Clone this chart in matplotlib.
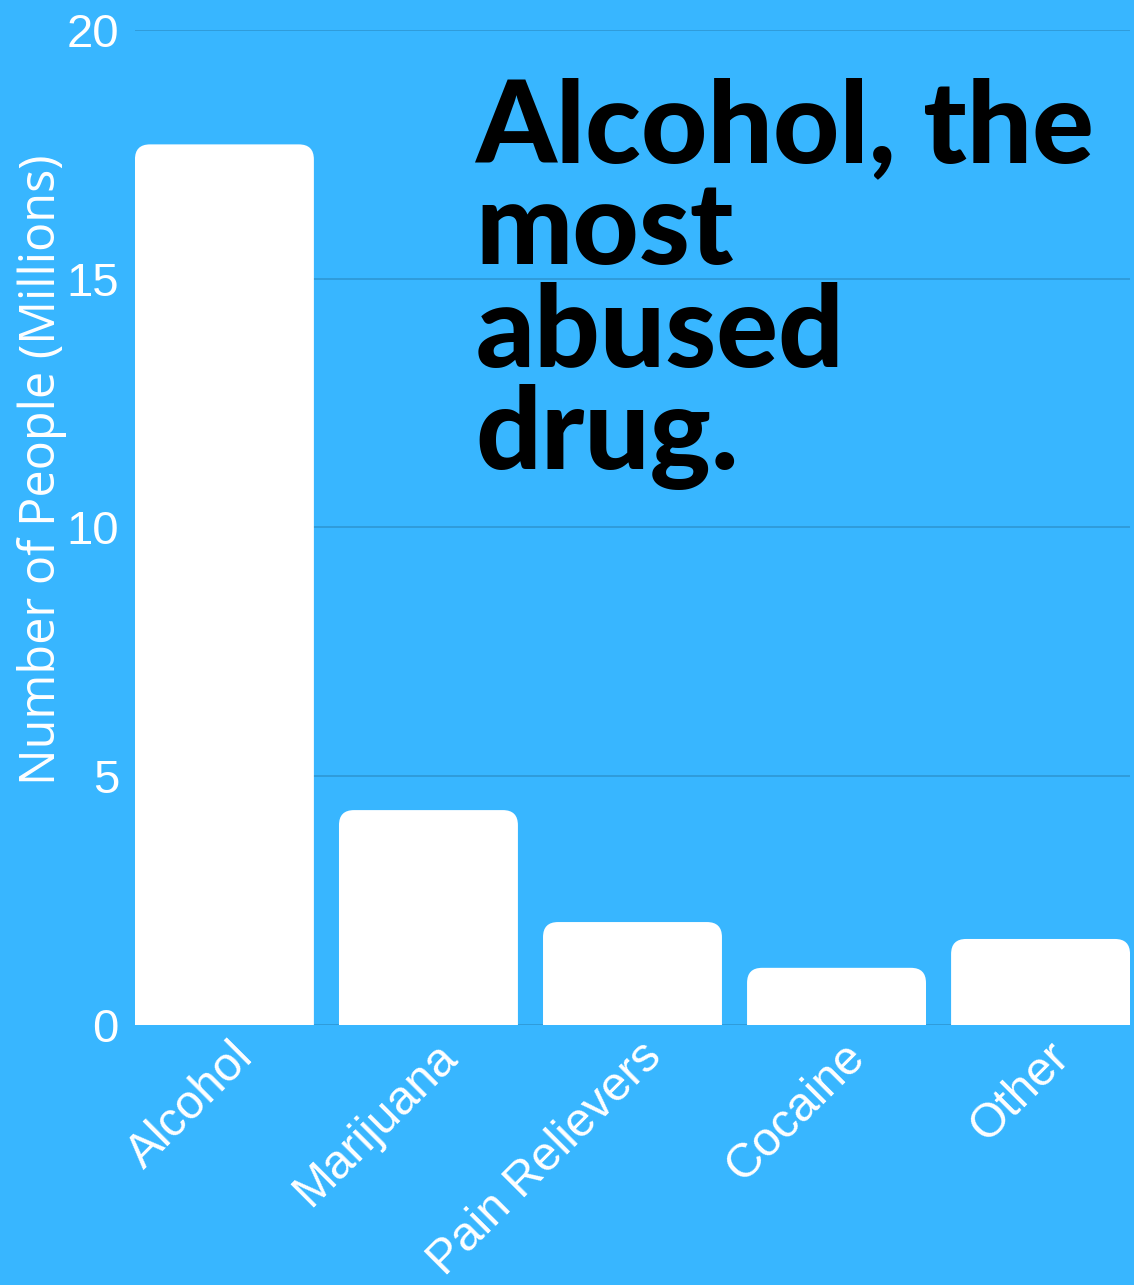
import numpy as np
import matplotlib.pyplot as plt
from matplotlib.patches import FancyBboxPatch
from matplotlib.transforms import ScaledTranslation

# data
drugs = ["Alcohol", "Marijuana", "Pain Relievers", "Cocaine", "Other"]
people_millions = [17.7, 4.32, 2.07, 1.15, 1.73]
y_ticks = [0, 5, 10, 15, 20]

bg = "#38B6FF"
grid_col = "#2F9AD8"

fig = plt.figure(figsize=(11.34, 12.85), dpi=100, facecolor=bg)
ax = fig.add_axes([0.119, 0.2023, 0.8775, 0.7744], facecolor=bg)

x = np.arange(len(drugs))
bar_w = 0.877
bars = ax.bar(x, people_millions, width=bar_w, color="none", edgecolor="none")

ax.set_xlim(-bar_w / 2, len(drugs) - 1 + bar_w / 2)
ax.set_ylim(0, 20)
ax.set_yticks(y_ticks)
ax.set_xticks(x)

# rounded tops: boxes start below zero so only the top corners show
fig.canvas.draw()
px_x = 1 / (ax.transData.transform((1, 0))[0] - ax.transData.transform((0, 0))[0])
px_y = 1 / (ax.transData.transform((0, 1))[1] - ax.transData.transform((0, 0))[1])
radius_px = 15
for b in bars:
    box = FancyBboxPatch((b.get_x(), -2), b.get_width(), b.get_height() + 2,
                         boxstyle=f"round,pad=0,rounding_size={radius_px * px_x}",
                         mutation_aspect=px_y / px_x,
                         facecolor="white", edgecolor="none", zorder=3)
    box.set_clip_path(ax.patch)
    ax.add_patch(box)

ax.grid(axis="y", color=grid_col, linewidth=1.3)
ax.set_axisbelow(True)
for s in ax.spines.values():
    s.set_visible(False)
ax.tick_params(axis="both", length=0, colors="white")
ax.tick_params(axis="y", pad=11.5)

ax.set_yticklabels([str(t) for t in y_ticks], fontsize=34, color="white",
                   family="Liberation Sans", va="center_baseline")
ax.set_xticklabels(drugs, fontsize=34.5, color="white", family="Liberation Sans",
                   rotation=45, ha="right", va="center", rotation_mode="anchor")
offset = ScaledTranslation(22 / 100, -20 / 100, fig.dpi_scale_trans)
for lbl in ax.get_xticklabels():
    lbl.set_transform(lbl.get_transform() + offset)

ax.set_ylabel("Number of People (Millions)", fontsize=35, color="white",
              family="Open Sans")
ax.yaxis.set_label_coords(-0.068, 0.558)

fig.text(0.419, 0.940, "Alcohol, the\nmost\nabused\ndrug.", fontsize=83,
         family="Lato", weight="black", color="black", ha="left",
         va="top", linespacing=0.98)

fig.savefig("out.png", dpi=100, facecolor=bg)
